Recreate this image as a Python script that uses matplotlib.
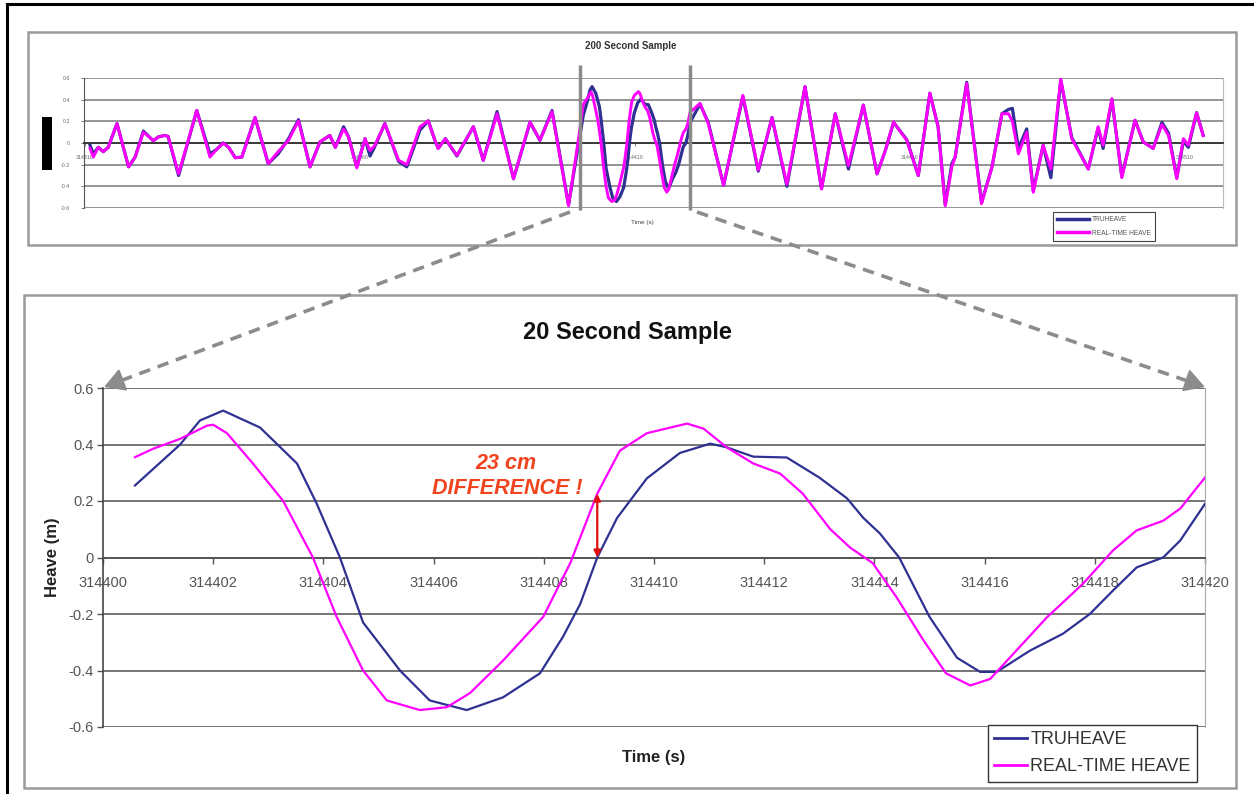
import numpy as np
import matplotlib
matplotlib.use("Agg")
import matplotlib.pyplot as plt
from matplotlib.lines import Line2D
from matplotlib.patches import Rectangle, FancyArrowPatch

plt.rcParams['font.family'] = ['Liberation Sans', 'DejaVu Sans']

# ---------------- data ----------------
T0 = 314400  # start of the 20 second window

# 20 second sample (offsets in s from T0)
BOT_T_TRU = [0.58, 1.40, 1.76, 2.18, 2.85, 3.52, 3.88, 4.30, 4.72, 5.39, 5.93, 6.60,
             7.26, 7.93, 8.35, 8.66, 8.97, 9.33, 9.87, 10.47, 11.02, 11.32, 11.80,
             12.41, 13.00, 13.50, 13.80, 14.10, 14.45, 15.00, 15.50, 15.92, 16.22,
             16.82, 17.42, 17.91, 18.33, 18.76, 19.24, 19.55, 20.00]
BOT_TRU = [0.255, 0.40, 0.485, 0.52, 0.46, 0.333, 0.19, 0.0, -0.23, -0.40, -0.506, -0.54,
           -0.495, -0.41, -0.28, -0.165, 0.0, 0.14, 0.28, 0.37, 0.403, 0.39, 0.357,
           0.354, 0.283, 0.21, 0.14, 0.085, 0.0, -0.21, -0.355, -0.405, -0.405,
           -0.33, -0.27, -0.20, -0.117, -0.035, 0.0, 0.06, 0.19]

BOT_T_RT = [0.58, 0.91, 1.40, 1.89, 2.00, 2.25, 2.72, 3.27, 3.81, 4.24, 4.72, 5.15, 5.75,
            6.24, 6.66, 7.26, 7.99, 8.48, 8.97, 9.38, 9.87, 10.60, 10.90, 11.32, 11.80,
            12.29, 12.70, 13.20, 13.56, 13.97, 14.40, 14.88, 15.30, 15.74, 16.10, 16.46,
            17.13, 17.79, 18.33, 18.76, 19.24, 19.55, 20.00]
BOT_RT = [0.355, 0.385, 0.42, 0.467, 0.47, 0.44, 0.333, 0.20, 0.0, -0.21, -0.40, -0.506, -0.54,
          -0.53, -0.48, -0.365, -0.21, -0.02, 0.226, 0.378, 0.44, 0.474, 0.456, 0.39, 0.333,
          0.297, 0.226, 0.10, 0.035, -0.02, -0.14, -0.29, -0.41, -0.453, -0.43, -0.354,
          -0.212, -0.092, 0.025, 0.096, 0.13, 0.173, 0.283]

# 200 second sample: part before and after the 20 second window (offsets from T0)
TOP_PRE_T = [-89.1, -88.5, -87.6, -86.7, -85.8, -84.2, -82.1, -80.9, -79.4, -78.2, -77.6,
             -76.7, -75.5, -74.9, -73.0, -69.7, -67.3, -66.1, -64.9, -63.9, -62.7, -61.5,
             -59.1, -56.7, -54.9, -53.0, -51.2, -49.1, -47.3, -45.5, -44.5, -43.0, -42.1,
             -40.6, -39.1, -38.2, -37.3, -35.5, -33.0, -31.5, -29.1, -27.6, -26.4, -25.8,
             -24.5, -22.4, -19.4, -17.6, -15.1, -12.1, -9.1, -7.3, -5.1, -2.1, -0.4]
TOP_PRE_RT = [-0.05, -0.13, -0.04, -0.08, -0.04, 0.18, -0.22, -0.13, 0.10, 0.05, 0.02,
              0.056, 0.07, 0.06, -0.285, 0.30, -0.13, -0.06, 0.0, -0.04, -0.136, -0.13,
              0.235, -0.19, -0.08, 0.025, 0.205, -0.22, 0.01, 0.07, -0.04, 0.13, 0.056,
              -0.23, 0.04, -0.07, -0.02, 0.18, -0.16, -0.20, 0.15, 0.205, 0.025, -0.05,
              0.04, -0.115, 0.15, -0.16, 0.27, -0.33, 0.195, 0.025, 0.29, -0.58, 0.0]
TOP_PRE_TRU = [-0.02, -0.10, -0.04, -0.08, -0.04, 0.18, -0.22, -0.13, 0.11, 0.05, 0.02,
               0.056, 0.07, 0.06, -0.30, 0.30, -0.10, -0.06, 0.0, -0.04, -0.136, -0.13,
               0.235, -0.19, -0.10, 0.04, 0.215, -0.22, 0.01, 0.07, -0.04, 0.15, 0.056,
               -0.22, 0.04, -0.12, -0.03, 0.18, -0.17, -0.22, 0.12, 0.205, 0.025, -0.05,
               0.04, -0.12, 0.15, -0.16, 0.29, -0.33, 0.19, 0.025, 0.30, -0.57, -0.05]

TOP_POST_T = [21.8, 23.3, 26.1, 29.6, 32.4, 34.9, 37.6, 40.9, 43.9, 46.4, 48.8, 51.5, 54.0,
              55.5, 57.0, 57.6, 59.4, 61.5, 63.6, 65.1, 66.4, 67.6, 68.2, 70.3, 73.0, 74.9,
              76.7, 77.9, 78.6, 79.7, 81.2, 82.4, 84.2, 85.6, 87.4, 89.4, 92.4, 94.2, 95.1,
              96.7, 98.5, 100.9, 102.4, 104.2, 105.8, 107.0, 108.5, 109.7, 110.6, 112.1, 113.3]
TOP_POST_RT = [0.366, 0.18, -0.39, 0.44, -0.25, 0.235, -0.38, 0.52, -0.425, 0.27, -0.21, 0.35,
               -0.285, -0.07, 0.195, 0.15, 0.025, -0.30, 0.46, 0.15, -0.58, -0.22, -0.13, 0.55,
               -0.56, -0.22, 0.27, 0.27, 0.20, -0.10, 0.10, -0.455, -0.02, -0.24, 0.59, 0.04,
               -0.24, 0.15, -0.02, 0.41, -0.32, 0.21, 0.01, -0.05, 0.17, 0.07, -0.33, 0.04,
               -0.02, 0.28, 0.07]
TOP_POST_TRU = [0.36, 0.19, -0.39, 0.43, -0.26, 0.235, -0.40, 0.52, -0.42, 0.27, -0.24, 0.35,
                -0.285, -0.07, 0.19, 0.15, 0.03, -0.30, 0.46, 0.15, -0.57, -0.19, -0.13, 0.56,
                -0.55, -0.22, 0.27, 0.31, 0.32, -0.05, 0.13, -0.44, -0.02, -0.32, 0.58, 0.05,
                -0.24, 0.14, -0.05, 0.40, -0.31, 0.21, 0.01, -0.05, 0.19, 0.09, -0.32, 0.02,
                -0.04, 0.28, 0.07]

DIFF_T = 8.97          # where the 23 cm difference is marked
DIFF_LOW, DIFF_HIGH = 0.0, 0.226

BOT_XTICKS = [314400, 314402, 314404, 314406, 314408, 314410, 314412, 314414, 314416, 314418, 314420]
YTICKS = [-0.6, -0.4, -0.2, 0.0, 0.2, 0.4, 0.6]
YTICK_LABELS = ['-0.6', '-0.4', '-0.2', '0', '0.2', '0.4', '0.6']
TOP_XTICKS = [314310, 314360, 314410, 314460, 314510]

NAVY = '#2E3192'
MAG = '#FF00FF'
GRID = '#6a6a6a'

# ---------------- figure ----------------
W, H = 1254, 794
fig = plt.figure(figsize=(W / 100, H / 100), dpi=100)
fig.patch.set_facecolor('white')


def axrect(x0, y0, x1, y1):
    return [x0 / W, 1 - y1 / H, (x1 - x0) / W, (y1 - y0) / H]


def fpt(x, y):
    return (x / W, 1 - y / H)


# outer black frame lines (top and left)
fig.add_artist(Line2D([7 / W, 1], [1 - 4 / H, 1 - 4 / H], transform=fig.transFigure, color='black', lw=2.2))
fig.add_artist(Line2D([7 / W, 7 / W], [1 - 4 / H, 0], transform=fig.transFigure, color='black', lw=2.2))

# panel boxes
for (x0, y0, x1, y1) in [(28, 32, 1236, 245), (24, 295, 1236, 788)]:
    fig.add_artist(Rectangle((x0 / W, 1 - y1 / H), (x1 - x0) / W, (y1 - y0) / H,
                             transform=fig.transFigure, fill=False, ec='#9a9a9a', lw=1.8))

# ---------------- top panel: 200 second sample ----------------
ax_top = fig.add_axes(axrect(84, 78, 1223, 208))
top_t_tru = T0 + np.concatenate([TOP_PRE_T, BOT_T_TRU, TOP_POST_T])
top_tru = np.concatenate([TOP_PRE_TRU, BOT_TRU, TOP_POST_TRU])
top_t_rt = T0 + np.concatenate([TOP_PRE_T, BOT_T_RT, TOP_POST_T])
top_rt = np.concatenate([TOP_PRE_RT, BOT_RT, TOP_POST_RT])
ax_top.plot(top_t_tru, top_tru, color=NAVY, lw=2.3, zorder=3, solid_joinstyle='round')
ax_top.plot(top_t_rt, top_rt, color=MAG, lw=2.1, zorder=4, solid_joinstyle='round')
ax_top.set_xlim(314309.8, 314516.9)
ax_top.set_ylim(-0.6, 0.6)
ax_top.set_yticks(YTICKS, YTICK_LABELS)
ax_top.set_xticks(TOP_XTICKS, [str(t) for t in TOP_XTICKS])
ax_top.yaxis.grid(True, color='#777777', lw=1.1)
ax_top.set_axisbelow(True)
ax_top.spines['bottom'].set_position(('data', 0))
ax_top.spines['bottom'].set_color('#333333')
ax_top.spines['bottom'].set_linewidth(1.3)
ax_top.spines['left'].set_color('#555555')
ax_top.spines['top'].set_visible(False)
ax_top.spines['right'].set_color('#bbbbbb')
ax_top.tick_params(axis='both', labelsize=3.8, labelcolor='#666666', colors='#666666', length=2, width=0.6)
ax_top.tick_params(axis='x', pad=6.5)
ax_top.tick_params(axis='y', pad=8)
ax_top.set_xlabel('Time (s)', fontsize=4.5, color='#444444')
ax_top.xaxis.set_label_coords(0.49, -0.115)
ax_top.xaxis.label.set_va('center')

# window lines
for tw in (T0, T0 + 20):
    ax_top.plot([tw, tw], [-0.62, 0.72], color='#8a8a8a', lw=2.5, clip_on=False, zorder=5,
                solid_capstyle='butt')

fig.text(631 / W, 1 - 46 / H, '200 Second Sample', fontsize=7, fontweight='bold',
         ha='center', va='center', color='#333333')
# blacked-out label block
fig.add_artist(Rectangle((42 / W, 1 - 170 / H), 10 / W, 53 / H, transform=fig.transFigure,
                         fc='black', ec='none'))

htop = [Line2D([], [], color=NAVY, lw=2.5), Line2D([], [], color=MAG, lw=2.5)]
leg_top = ax_top.legend(htop, ['TRUHEAVE', 'REAL-TIME HEAVE'], loc='upper left',
                        bbox_to_anchor=fpt(1053, 212), bbox_transform=fig.transFigure,
                        fontsize=4.8, frameon=True, fancybox=False, framealpha=1,
                        edgecolor='#444444', borderpad=0.6, labelspacing=1.0,
                        handlelength=4.8, handletextpad=0.4, borderaxespad=0)
leg_top.get_frame().set_linewidth(0.8)
for t in leg_top.get_texts():
    t.set_color('#555555')

# ---------------- bottom panel: 20 second sample ----------------
ax_bot = fig.add_axes(axrect(103, 388, 1205, 727))
l_tru, = ax_bot.plot(T0 + np.array(BOT_T_TRU), BOT_TRU, color=NAVY, lw=1.6, zorder=3)
l_rt, = ax_bot.plot(T0 + np.array(BOT_T_RT), BOT_RT, color=MAG, lw=1.6, zorder=4)
ax_bot.set_xlim(BOT_XTICKS[0], BOT_XTICKS[-1])
ax_bot.set_ylim(-0.6, 0.6)
ax_bot.set_xticks(BOT_XTICKS, [str(t) for t in BOT_XTICKS])
ax_bot.set_yticks(YTICKS, YTICK_LABELS)
ax_bot.yaxis.grid(True, color=GRID, lw=1.3)
ax_bot.set_axisbelow(True)
ax_bot.spines['bottom'].set_position(('data', 0))
ax_bot.spines['bottom'].set_color('#555555')
ax_bot.spines['bottom'].set_linewidth(1.3)
ax_bot.spines['left'].set_color('#444444')
ax_bot.spines['left'].set_linewidth(1.2)
ax_bot.spines['top'].set_visible(False)
ax_bot.spines['right'].set_color('#aaaaaa')
ax_bot.tick_params(axis='both', labelsize=10.5, labelcolor='#555555', colors='#555555', length=4, width=1)
ax_bot.tick_params(axis='x', pad=9.5)
ax_bot.tick_params(axis='y', pad=3)
ax_bot.set_xlabel('Time (s)', fontsize=12, fontweight='bold', color='#222222')
ax_bot.xaxis.set_label_coords(0.5, -0.0885)
ax_bot.xaxis.label.set_va('center')
ax_bot.set_ylabel('Heave (m)', fontsize=12, fontweight='bold', color='#222222')
ax_bot.yaxis.set_label_coords(-0.0454, 0.5)
ax_bot.yaxis.label.set_va('center')

fig.text(627 / W, 1 - 333 / H, '20 Second Sample', fontsize=17, fontweight='bold',
         ha='center', va='center', color='#111111')

# 23 cm difference marker
ax_bot.annotate('', xy=(T0 + DIFF_T, DIFF_LOW), xytext=(T0 + DIFF_T, DIFF_HIGH),
                arrowprops=dict(arrowstyle='<|-|>', color='#E01010', lw=1.6,
                                mutation_scale=10, shrinkA=0, shrinkB=0), zorder=6)
fig.text(506 / W, 1 - 463 / H, '23 cm', fontsize=15.5, fontweight='bold', fontstyle='italic',
         color='#F0441E', ha='center', va='center')
fig.text(507 / W, 1 - 489 / H, 'DIFFERENCE !', fontsize=15.5, fontweight='bold', fontstyle='italic',
         color='#F0441E', ha='center', va='center')

hb = [Line2D([], [], color=NAVY, lw=2), Line2D([], [], color=MAG, lw=2)]
leg = ax_bot.legend(hb, ['TRUHEAVE', 'REAL-TIME HEAVE'], loc='upper left',
                    bbox_to_anchor=fpt(988, 725), bbox_transform=fig.transFigure,
                    fontsize=13, frameon=True, fancybox=False, framealpha=1,
                    edgecolor='#333333', borderpad=0.35, labelspacing=0.55,
                    handlelength=1.8, handletextpad=0.2, borderaxespad=0)
leg.get_frame().set_linewidth(1.0)
for t in leg.get_texts():
    t.set_color('#333333')

# ---------------- dashed zoom arrows ----------------
def dashed_arrow(p0, p1):
    p0 = np.array(p0, float)
    p1 = np.array(p1, float)
    d = p1 - p0
    u = d / np.hypot(*d)
    body_end = p1 - u * 10
    head_start = p1 - u * 16
    fig.add_artist(Line2D([p0[0] / W, body_end[0] / W], [1 - p0[1] / H, 1 - body_end[1] / H],
                          transform=fig.transFigure, color='#8c8c8c', lw=2.6,
                          linestyle=(0, (3.2, 2.2))))
    fig.add_artist(FancyArrowPatch(fpt(*head_start), fpt(*p1), transform=fig.transFigure,
                                   arrowstyle='-|>,head_length=0.7,head_width=0.4',
                                   mutation_scale=18, color='#8c8c8c', lw=1.5,
                                   shrinkA=0, shrinkB=0))


dashed_arrow((570, 212), (104, 387))
dashed_arrow((697, 212), (1205, 387))

fig.savefig('out.png', dpi=100)
